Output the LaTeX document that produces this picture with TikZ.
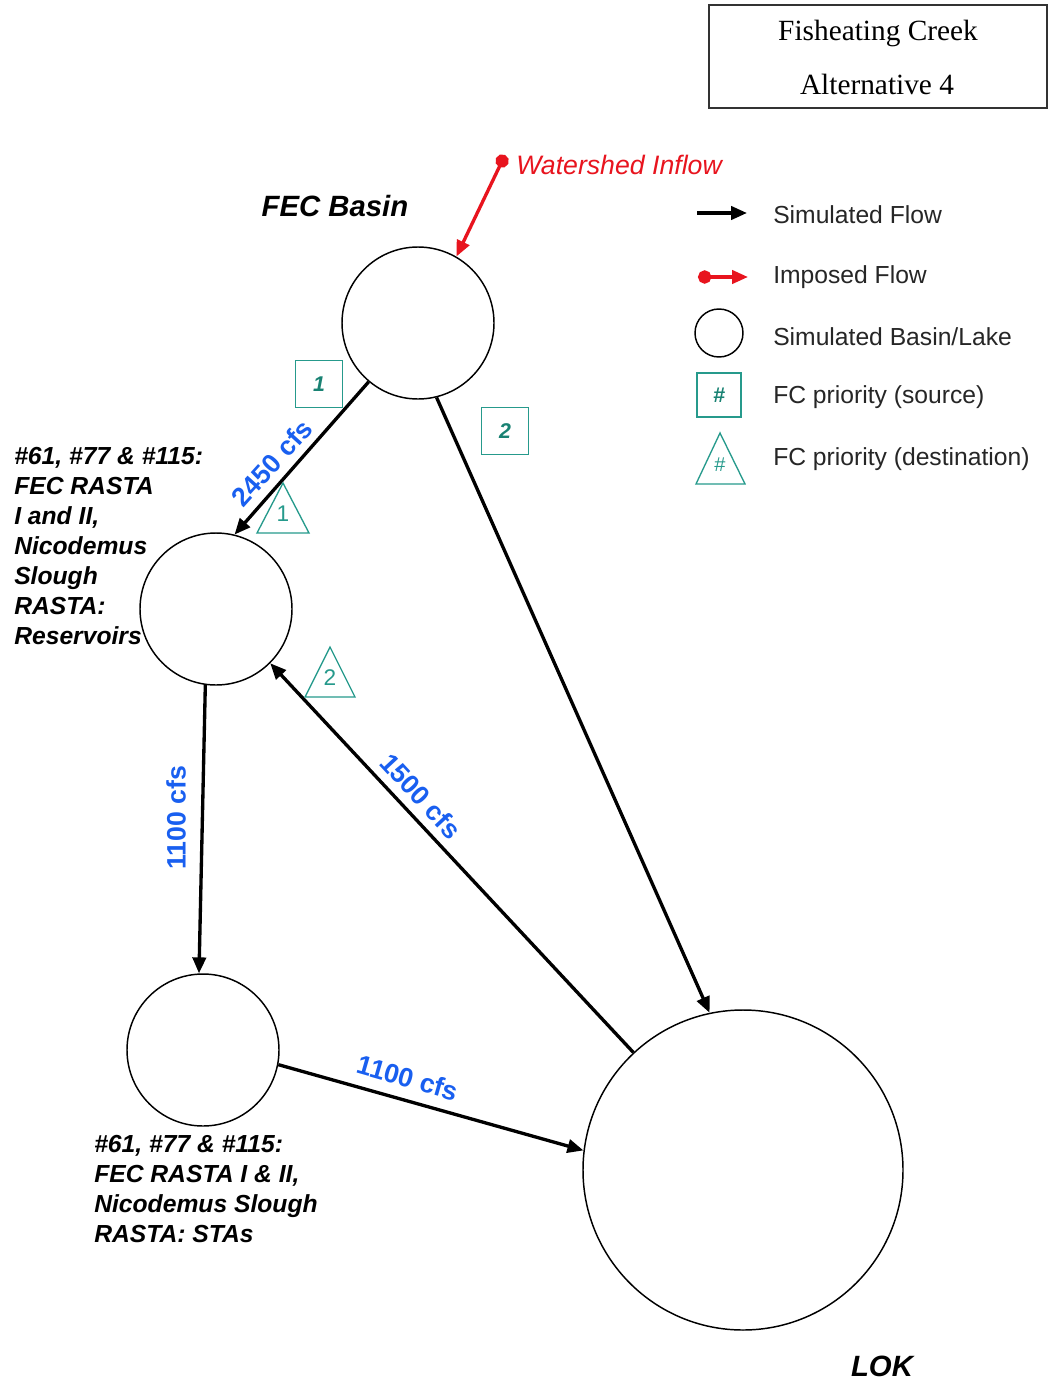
\documentclass[tikz,border=0pt]{standalone}
\usepackage{fontspec}
\setmainfont{Liberation Serif}
\setsansfont{Liberation Sans}
\usetikzlibrary{arrows.meta}
\definecolor{tealc}{RGB}{38,154,140}
\definecolor{tealdark}{RGB}{25,130,115}
\definecolor{cfsblue}{RGB}{25,95,240}
\definecolor{inred}{RGB}{232,20,30}
\begin{document}
\begin{tikzpicture}[x=0.75pt,y=-0.75pt,
  basin/.style={circle,draw,line width=1.1pt,inner sep=0pt,minimum size=114pt},
  bigbasin/.style={circle,draw,line width=1.1pt,inner sep=0pt,minimum size=240pt},
  flow/.style={line width=2.5pt,-{Triangle[length=12pt,width=10pt]}},
  imposed/.style={line width=2.5pt,draw=inred,{Circle[length=10pt,fill=inred]}-{Triangle[length=12pt,width=10pt,fill=inred]}},
  cfs/.style={font=\sffamily\bfseries\fontsize{20}{24}\selectfont,text=cfsblue,inner sep=0pt},
  lbl/.style={font=\sffamily\bfseries\itshape\fontsize{18.5}{22.5}\selectfont,align=left,inner sep=0pt},
  leg/.style={font=\sffamily\fontsize{18.5}{22}\selectfont,text=black!85,anchor=west,inner sep=0pt},
  srcbox/.style={draw=tealc,line width=1pt,minimum size=35pt,inner sep=0pt,font=\sffamily\bfseries\itshape\fontsize{16}{18}\selectfont,text=tealdark},
  tri/.style={draw=tealc,line width=1pt},
  trinum/.style={font=\sffamily\fontsize{17}{20}\selectfont,text=tealc,inner sep=0pt}
]
\useasboundingbox (0,0) rectangle (1049,1384);
\fill[white] (0,0) rectangle (1049,1384);

% title box
\draw[line width=1.1pt,black!80] (709,5) rectangle (1047,108);
\node[font=\fontsize{22}{26}\selectfont] (t1) at (878,33) {Fisheating Creek};
\node[font=\fontsize{22}{26}\selectfont] (t2) at (877,84) {Alternative 4};

% basins
\node[basin] (fec) at (418,323) {};
\node[basin] (res) at (216,609) {};
\node[basin] (sta) at (203,1050) {};
\node[bigbasin] (lok) at (743,1170) {};

% labels
\node[font=\sffamily\bfseries\itshape\fontsize{22}{26}\selectfont] (fecl) at (335,206) {FEC Basin};
\node[font=\sffamily\itshape\fontsize{20}{24}\selectfont,text=inred,anchor=west,inner sep=0pt] (wsl) at (516,165) {Watershed Inflow};
\node[font=\sffamily\bfseries\itshape\fontsize{22}{26}\selectfont] (lokl) at (882,1366) {LOK};
\node[lbl,anchor=north west] (resl) at (14,447) {\#61, \#77 \& \#115:\\FEC RASTA\\I and II,\\Nicodemus\\Slough\\RASTA:\\Reservoirs};
\node[lbl,anchor=north west] (stal) at (94,1135) {\#61, \#77 \& \#115:\\FEC RASTA I \& II,\\Nicodemus Slough\\RASTA: STAs};

% imposed inflow
\coordinate (ws) at (505,155);
\draw[imposed] (ws) -- (fec.60.4);

% flows
\draw[flow] (fec.230.6) -- (res.76);
\draw[flow] (res.262.5) -- (sta.93.6);
\draw[flow] (lok.133.5) -- (res.315.5);
\draw[flow] (fec.284) -- (lok.102.5);
\draw[flow] (sta.349) -- (lok.173);

% cfs labels
\node[cfs,rotate=48] (c1) at (272,463) {2450 cfs};
\node[cfs,rotate=-47] (c2) at (421,796) {1500 cfs};
\node[cfs,rotate=90] (c3) at (176,818) {1100 cfs};
\node[cfs,rotate=-16] (c4) at (408,1078) {1100 cfs};

% priority boxes
\node[srcbox] (b1) at (319,384) {1};
\node[srcbox] (b2) at (505,431) {2};

% priority triangles
\draw[tri] (257,533) -- (283,483) -- (309,533) -- cycle;
\node[trinum] (d1) at (283,514) {1};
\draw[tri] (305,697) -- (330,647) -- (355,697) -- cycle;
\node[trinum] (d2) at (330,678) {2};

% legend
\coordinate (la1) at (697,213);
\coordinate (lb1) at (747,213);
\draw[flow] (la1) -- (lb1);
\node[leg] (lt1) at (773,215) {Simulated Flow};
\coordinate (la2) at (698,277);
\coordinate (lb2) at (748,277);
\draw[imposed] (la2) -- (lb2);
\node[leg] (lt2) at (773,277) {Imposed Flow};
\node[circle,draw,line width=1.1pt,minimum size=36pt,inner sep=0pt] (lc) at (719,333) {};
\node[leg] (lt3) at (773,337) {Simulated Basin/Lake};
\node[srcbox,minimum size=33pt] (lbx) at (719,395) {\#};
\node[leg] (lt4) at (773,397) {FC priority (source)};
\draw[tri] (696,484) -- (720,433) -- (745,484) -- cycle;
\node[trinum,font=\sffamily\fontsize{15}{18}\selectfont] (ltr) at (720,465) {\#};
\node[leg] (lt5) at (773,459) {FC priority (destination)};
\end{tikzpicture}
\end{document}
